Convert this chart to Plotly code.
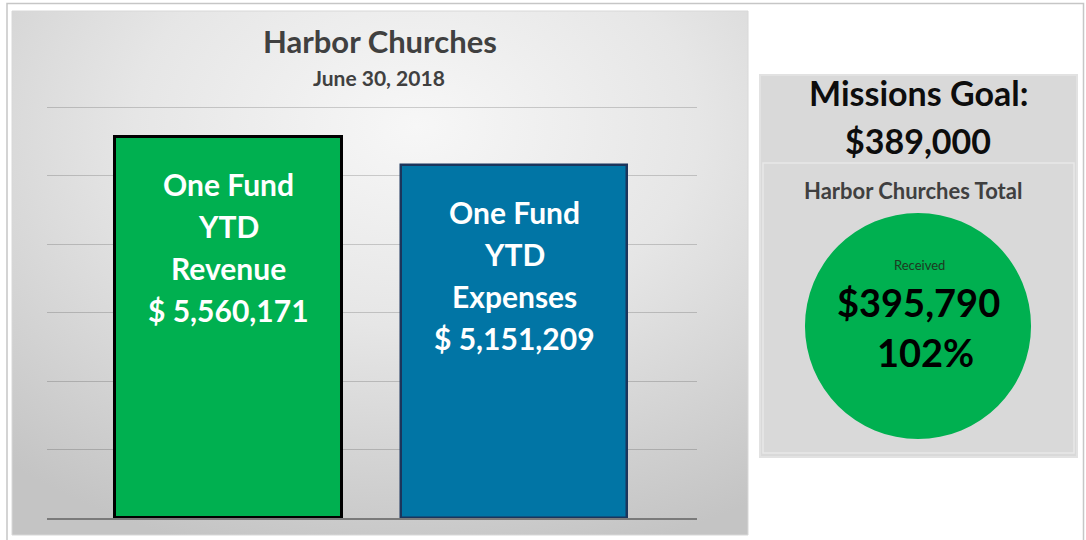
import base64
import plotly.graph_objects as go

# ---------------- data ----------------
categories = ["Revenue", "Expenses"]
bar_labels = ["One Fund<br>YTD<br>Revenue", "One Fund<br>YTD<br>Expenses"]
values = [5560171, 5151209]
bar_colors = ["#00b050", "#0175a5"]
bar_edges = ["#000000", "#1b355c"]
chart_title = "Harbor Churches"
chart_subtitle = "June 30, 2018"
y_ticks = [0, 1000000, 2000000, 3000000, 4000000, 5000000, 6000000]

goal_label = "Missions Goal:"
goal_value = 389000
total_title = "Harbor Churches Total"
received_label = "Received"
received_value = 395790

W, H = 1086, 540
FONT = "Lato"


def px(x):
    return x / W


def py(y):
    return 1 - y / H


def svg_uri(svg):
    return "data:image/svg+xml;base64," + base64.b64encode(svg.encode()).decode()


left_bg = svg_uri(
    """<svg xmlns='http://www.w3.org/2000/svg' width='736' height='524' viewBox='0 0 736 524' preserveAspectRatio='none'>
<defs><radialGradient id='g' cx='0.55' cy='0.22' r='0.85' gradientUnits='objectBoundingBox'>
<stop offset='0' stop-color='#f7f7f7'/><stop offset='0.45' stop-color='#e6e6e6'/><stop offset='1' stop-color='#c4c4c4'/>
</radialGradient></defs><rect width='736' height='524' fill='url(#g)'/></svg>"""
)

inner_bg = svg_uri(
    """<svg xmlns='http://www.w3.org/2000/svg' width='311' height='290' viewBox='0 0 311 290' preserveAspectRatio='none'>
<defs><radialGradient id='g' cx='0.5' cy='0.12' r='0.95'>
<stop offset='0' stop-color='#fbfbfb'/><stop offset='0.5' stop-color='#e0e0e0'/><stop offset='1' stop-color='#c6c6c6'/>
</radialGradient><filter id='b' x='-50%' y='-50%' width='200%' height='200%'><feGaussianBlur stdDeviation='7'/></filter></defs>
<rect width='311' height='290' fill='url(#g)'/>
<circle cx='156' cy='168' r='117' fill='#000' fill-opacity='0.26' filter='url(#b)'/></svg>"""
)

fig = go.Figure()

# bars
for i, cat in enumerate(categories):
    fig.add_trace(
        go.Bar(
            x=[i],
            y=[values[i]],
            width=0.795,
            marker=dict(color=bar_colors[i], line=dict(color=bar_edges[i], width=3 if i == 0 else 2.5)),
            hoverinfo="skip",
            showlegend=False,
        )
    )

# bar labels (each line separately for Excel-like spacing)
for i, cat in enumerate(categories):
    lines = bar_labels[i].split("<br>") + [f"$ {values[i]:,.0f}"]
    for j, line in enumerate(lines):
        fig.add_annotation(
            x=i, y=values[i], xref="x", yref="y",
            text=f"<b>{line}</b>", showarrow=False,
            yanchor="middle", yshift=-(47 + 42 * j),
            font=dict(family=FONT, size=30, color="#ffffff"),
        )

# pie (circle)
cx, cy, r = 918, 326, 113
fig.add_trace(
    go.Pie(
        values=[received_value],
        labels=[received_label],
        marker=dict(colors=["#00b050"], line=dict(width=0)),
        textinfo="none",
        hoverinfo="skip",
        sort=False,
        showlegend=False,
        domain=dict(x=[px(cx - r), px(cx + r)], y=[py(cy + r), py(cy - r)]),
    )
)

x_lo, x_hi = -0.636, 1.641
unit = (518 - 107) / 6  # pixels per million
y_top = y_ticks[-1] * 1.01
fig.update_layout(
    width=W, height=H,
    margin=dict(l=0, r=0, t=0, b=0),
    paper_bgcolor="#ffffff",
    plot_bgcolor="rgba(0,0,0,0)",
    bargap=0,
    xaxis=dict(
        domain=[px(47), px(697)], range=[x_lo, x_hi],
        showgrid=False, zeroline=False, showticklabels=False,
        showline=True, linecolor="#7a7a7a", linewidth=1.5,
        tickvals=[x_lo, x_hi], ticks="inside", ticklen=5, tickcolor="#7a7a7a", tickwidth=1.5,
        fixedrange=True,
    ),
    yaxis=dict(
        domain=[py(518), py(518 - unit * y_top / 1e6)], range=[y_ticks[0], y_top],
        tickvals=y_ticks, showticklabels=False,
        showgrid=True, gridcolor="rgba(0,0,0,0.17)", gridwidth=1.2,
        zeroline=False, showline=False, fixedrange=True,
    ),
    images=[
        dict(source=left_bg, xref="paper", yref="paper", x=px(12), y=py(11),
             sizex=px(748) - px(12), sizey=py(11) - py(535), sizing="stretch", layer="below"),
        dict(source=inner_bg, xref="paper", yref="paper", x=px(763), y=py(163),
             sizex=px(1074) - px(763), sizey=py(163) - py(453), sizing="stretch", layer="below"),
    ],
    shapes=[
        # outer frame
        dict(type="rect", xref="paper", yref="paper", x0=px(7), x1=px(1083.5), y0=-0.02, y1=py(3.5),
             line=dict(color="#c6c6c6", width=1.5), fillcolor="rgba(0,0,0,0)", layer="below"),
        # left panel border
        dict(type="rect", xref="paper", yref="paper", x0=px(12), x1=px(748), y0=py(535), y1=py(11),
             line=dict(color="#d8d8d8", width=1), fillcolor="rgba(0,0,0,0)", layer="below"),
        # right panel outer box
        dict(type="rect", xref="paper", yref="paper", x0=px(760), x1=px(1077), y0=py(457), y1=py(75),
             line=dict(color="#e2e2e2", width=2), fillcolor="#d9d9d9", layer="below"),
        # inner box border
        dict(type="rect", xref="paper", yref="paper", x0=px(763), x1=px(1074), y0=py(453), y1=py(163),
             line=dict(color="#e8e8e8", width=1.5), fillcolor="rgba(0,0,0,0)", layer="below"),
    ],
)

# titles and right panel texts
texts = [
    (chart_title, 380, 41, 31, "#404040"),
    (chart_subtitle, 379, 77, 21, "#404040"),
    (goal_label, 918, 92, 34, "#0d0d0d"),
    (f"${goal_value:,}", 918, 140, 34, "#0d0d0d"),
    (total_title, 913, 191, 22, "#404040"),
    (f"${received_value:,}", 918, 302, 38, "#000000"),
    (f"{received_value / goal_value:.0%}", 925, 352, 38, "#000000"),
]
for t, x, y, s, c in texts:
    fig.add_annotation(x=px(x), y=py(y), xref="paper", yref="paper", text=f"<b>{t}</b>",
                       showarrow=False, xanchor="center", yanchor="middle",
                       font=dict(family=FONT, size=s, color=c))

fig.add_annotation(x=px(919), y=py(265), xref="paper", yref="paper", text=received_label,
                   showarrow=False, xanchor="center", yanchor="middle",
                   font=dict(family=FONT, size=13, color="#1e3a22"))

fig.write_html(
    "out.html",
    config=dict(displayModeBar=False),
    post_script="document.body.style.margin='0';document.body.style.overflow='hidden';",
)
